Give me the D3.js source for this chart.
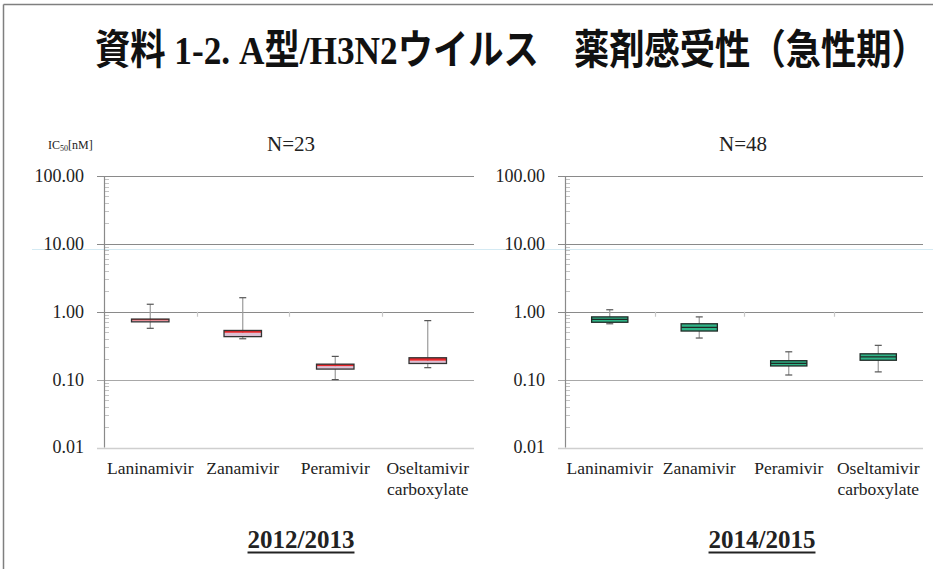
<!DOCTYPE html>
<html><head><meta charset="utf-8">
<script src="https://cdn.jsdelivr.net/npm/d3@7"></script>
<style>body{margin:0;background:#fff}svg{display:block}</style>
</head><body>
<svg id="c" width="933" height="569"></svg>
<script>
const categories = ["Laninamivir","Zanamivir","Peramivir","Oseltamivir\ncarboxylate"];
const yTicks = [0.01, 0.1, 1, 10, 100];
const yTickLabels = ["0.01","0.10","1.00","10.00","100.00"];
// season 2012/2013 (N=23)
const s1Low    = [0.57, 0.40, 0.100, 0.150];
const s1Q1     = [0.71, 0.43, 0.143, 0.173];
const s1Median = [0.745,0.49, 0.158, 0.190];
const s1Q3     = [0.78, 0.53, 0.169, 0.210];
const s1High   = [1.29, 1.61, 0.220, 0.740];
// season 2014/2015 (N=48)
const s2Low    = [0.665,0.41, 0.117, 0.130];
const s2Q1     = [0.70, 0.52, 0.159, 0.193];
const s2Median = [0.77, 0.59, 0.174, 0.216];
const s2Q3     = [0.84, 0.665,0.190, 0.240];
const s2High   = [1.07, 0.84, 0.257, 0.320];

const serif = "'Liberation Serif','Times New Roman',serif";
const svg = d3.select("#c");

// frame
svg.append("line").attr("x1",3.5).attr("x2",933).attr("y1",4.5).attr("y2",4.5).attr("stroke","#7f7f7f").attr("stroke-width",1.5);
svg.append("line").attr("x1",3.5).attr("x2",3.5).attr("y1",4.5).attr("y2",569).attr("stroke","#7f7f7f").attr("stroke-width",1.5);

// title (horizontally condensed to fit)
const title = svg.append("text").attr("x",0).attr("y",0)
  .style("font-family","'Liberation Serif','Noto Sans CJK JP',serif").style("font-weight","bold").style("font-size","41px").attr("fill","#111")
  .text("資料 1-2. A型/H3N2ウイルス　薬剤感受性（急性期）");
const tw = title.node().getComputedTextLength();
title.attr("transform",`translate(95,64) scale(${832/tw},1)`);

// faint blue line
svg.append("line").attr("x1",32).attr("x2",933).attr("y1",249.5).attr("y2",249.5).attr("stroke","#d4eaf3").attr("stroke-width",1);

function panel(opt){
  const {x0,x1,labelRight,nText,nX,year,yearX,low,q1,med,q3,high,boxStyle} = opt;
  const g = svg.append("g");
  const y = d3.scaleLog().domain([0.01,100]).range([447.5,176]);
  const x = d3.scaleBand().domain(categories).range([x0,x1]).paddingInner(0).paddingOuter(0);
  yTicks.forEach((t,i)=>{
    const col = t===0.01 ? "#cfcfcf" : (t===0.1 ? "#a8a8a8" : "#8a8a8a");
    g.append("line").attr("x1",x0-7).attr("x2",x1).attr("y1",Math.round(y(t))+0.5).attr("y2",Math.round(y(t))+0.5)
      .attr("stroke",col).attr("stroke-width",t===0.01?1.5:1.2);
    g.append("text").attr("x",labelRight).attr("y",y(t)).attr("dy","0.33em").attr("text-anchor","end")
      .style("font-family",serif).style("font-size","18px").attr("fill","#222").text(yTickLabels[i]);
  });
  for(let d=-2; d<2; d++){
    for(let m=2;m<=9;m++){
      const v = m*Math.pow(10,d);
      g.append("line").attr("x1",x0).attr("x2",x0+5).attr("y1",Math.round(y(v))+0.5).attr("y2",Math.round(y(v))+0.5)
        .attr("stroke","#c4c4c4").attr("stroke-width",1);
    }
  }
  g.append("line").attr("x1",x0+0.5).attr("x2",x0+0.5).attr("y1",y(100)).attr("y2",y(0.01)).attr("stroke","#8a8a8a").attr("stroke-width",1.2);
  categories.forEach((c,i)=>{ if(i>0){
    g.append("line").attr("x1",Math.round(x(c))+0.5).attr("x2",Math.round(x(c))+0.5).attr("y1",y(1)).attr("y2",y(1)+5).attr("stroke","#c8c8c8").attr("stroke-width",1.2);
  }});
  const bw = x.bandwidth()*0.405;
  categories.forEach((c,i)=>{
    const cx = x(c)+x.bandwidth()/2;
    g.append("line").attr("x1",cx).attr("x2",cx).attr("y1",y(high[i])).attr("y2",y(low[i])).attr("stroke","#9a9a9a").attr("stroke-width",1.2);
    [high[i],low[i]].forEach(v=>g.append("line").attr("x1",cx-3.5).attr("x2",cx+3.5).attr("y1",y(v)).attr("y2",y(v)).attr("stroke","#555").attr("stroke-width",1.2));
    if(boxStyle==="red"){
      g.append("rect").attr("x",cx-bw/2).attr("width",bw).attr("y",y(med[i])).attr("height",y(q1[i])-y(med[i])).attr("fill","#dcc0d4");
      g.append("rect").attr("x",cx-bw/2).attr("width",bw).attr("y",y(q3[i])).attr("height",y(med[i])-y(q3[i])).attr("fill","#e8262b");
      g.append("rect").attr("x",cx-bw/2).attr("width",bw).attr("y",y(q3[i])).attr("height",y(q1[i])-y(q3[i])).attr("fill","none").attr("stroke","#333").attr("stroke-width",1.3);
    } else {
      g.append("rect").attr("x",cx-bw/2).attr("width",bw).attr("y",y(q3[i])).attr("height",y(q1[i])-y(q3[i])).attr("fill","#2fb487").attr("stroke","#1f2a26").attr("stroke-width",1.3);
      g.append("line").attr("x1",cx-bw/2).attr("x2",cx+bw/2).attr("y1",y(med[i])).attr("y2",y(med[i])).attr("stroke","#1f2a26").attr("stroke-width",1.3);
    }
    const lines = c.split("\n");
    lines.forEach((ln,k)=>{
      g.append("text").attr("x",cx).attr("y",474+k*21).attr("text-anchor","middle")
        .style("font-family",serif).style("font-size","17.5px").attr("fill","#222").text(ln);
    });
  });
  g.append("text").attr("x",nX).attr("y",151).attr("text-anchor","middle")
    .style("font-family",serif).style("font-size","21px").attr("fill","#222").text(nText);
  const yt = g.append("text").attr("x",yearX).attr("y",548).attr("text-anchor","middle")
    .style("font-family",serif).style("font-weight","bold").style("font-size","25px").attr("fill","#222").text(year);
  const w = yt.node().getComputedTextLength();
  g.append("line").attr("x1",yearX-w/2).attr("x2",yearX+w/2).attr("y1",552.5).attr("y2",552.5).attr("stroke","#222").attr("stroke-width",1.8);
}

panel({x0:104,x1:474,labelRight:84,nText:"N=23",nX:291,year:"2012/2013",yearX:301,
  low:s1Low,q1:s1Q1,med:s1Median,q3:s1Q3,high:s1High,boxStyle:"red"});
panel({x0:565,x1:923,labelRight:545,nText:"N=48",nX:743,year:"2014/2015",yearX:762,
  low:s2Low,q1:s2Q1,med:s2Median,q3:s2Q3,high:s2High,boxStyle:"green"});

svg.append("text").attr("x",48).attr("y",149).style("font-family",serif).style("font-size","12px").attr("fill","#222")
  .html('IC<tspan font-size="8px" dy="2">50</tspan><tspan dy="-2">[nM]</tspan>');
</script>
</body></html>
